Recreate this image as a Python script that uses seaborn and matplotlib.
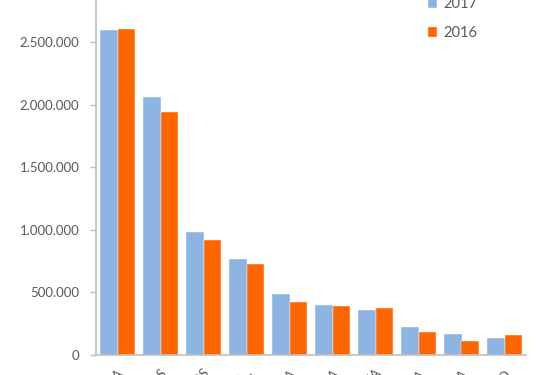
import matplotlib
matplotlib.use('Agg')
import matplotlib.pyplot as plt
import matplotlib.ticker as mticker
from matplotlib.patches import Patch
import pandas as pd
import seaborn as sns

paises = ['ALEMANIA', 'PAÍSES BAJOS', 'ESTADOS UNIDOS', 'RESTO DE E…', 'FRANCIA',
          'ITALIA', 'SUIZA', 'BÉLGICA', 'RUSIA', 'MÉXICO']
v2017 = [2593000, 2063000, 982000, 767000, 487000, 400000, 360000, 224000, 168000, 138000]
v2016 = [2600000, 1938000, 920000, 727000, 423000, 390000, 375000, 180000, 114000, 160000]
yticks = [0, 500000, 1000000, 1500000, 2000000, 2500000]

df = pd.DataFrame({'pais': paises * 2,
                   'valor': v2017 + v2016,
                   'año': ['2017'] * len(paises) + ['2016'] * len(paises)})

sns.set_style('white')
plt.rcParams['font.family'] = ['Lato', 'DejaVu Sans']

colores = {'2017': '#8DB4E2', '2016': '#FF6600'}
gris = '#595959'

fig = plt.figure(figsize=(5.36, 3.75), dpi=100)
ax = fig.add_axes([96 / 536, 20 / 375, 430 / 536, 1 - 20 / 375])

sns.barplot(data=df, x='pais', y='valor', hue='año', hue_order=['2017', '2016'],
            palette=colores, saturation=1, width=0.8, gap=0, ax=ax, legend=False,
            edgecolor='white', linewidth=0.3)

ax.set_xlim(-0.5, 9.5)
ax.set_ylim(0, 2835000)
ax.set_yticks(yticks)
ax.yaxis.set_major_formatter(mticker.FuncFormatter(lambda v, p: f'{int(v):,}'.replace(',', '.')))
ax.set_xlabel('')
ax.set_ylabel('')

for s in ['top', 'right']:
    ax.spines[s].set_visible(False)
for s in ['left', 'bottom']:
    ax.spines[s].set_color('#BFBFBF')
    ax.spines[s].set_linewidth(1.2)

ax.tick_params(axis='y', colors='#BFBFBF', labelcolor=gris, labelsize=9.5,
               length=4, width=1, direction='out', left=True, pad=8)
ax.tick_params(axis='x', labelcolor=gris, labelsize=9.5, length=0, pad=8.5)
plt.setp(ax.get_xticklabels(), rotation=45, ha='right', rotation_mode='anchor')

handles = [Patch(facecolor=colores[k], edgecolor='white', label=k) for k in ['2017', '2016']]
ax.legend(handles=handles, loc='upper left', bbox_to_anchor=(414 / 536, 1 + 16 / 375),
          bbox_transform=fig.transFigure, frameon=False, fontsize=10.5,
          handlelength=0.7, handleheight=0.7, handletextpad=0.4, labelspacing=1.0,
          labelcolor=gris)

fig.savefig('out.png', dpi=100)
